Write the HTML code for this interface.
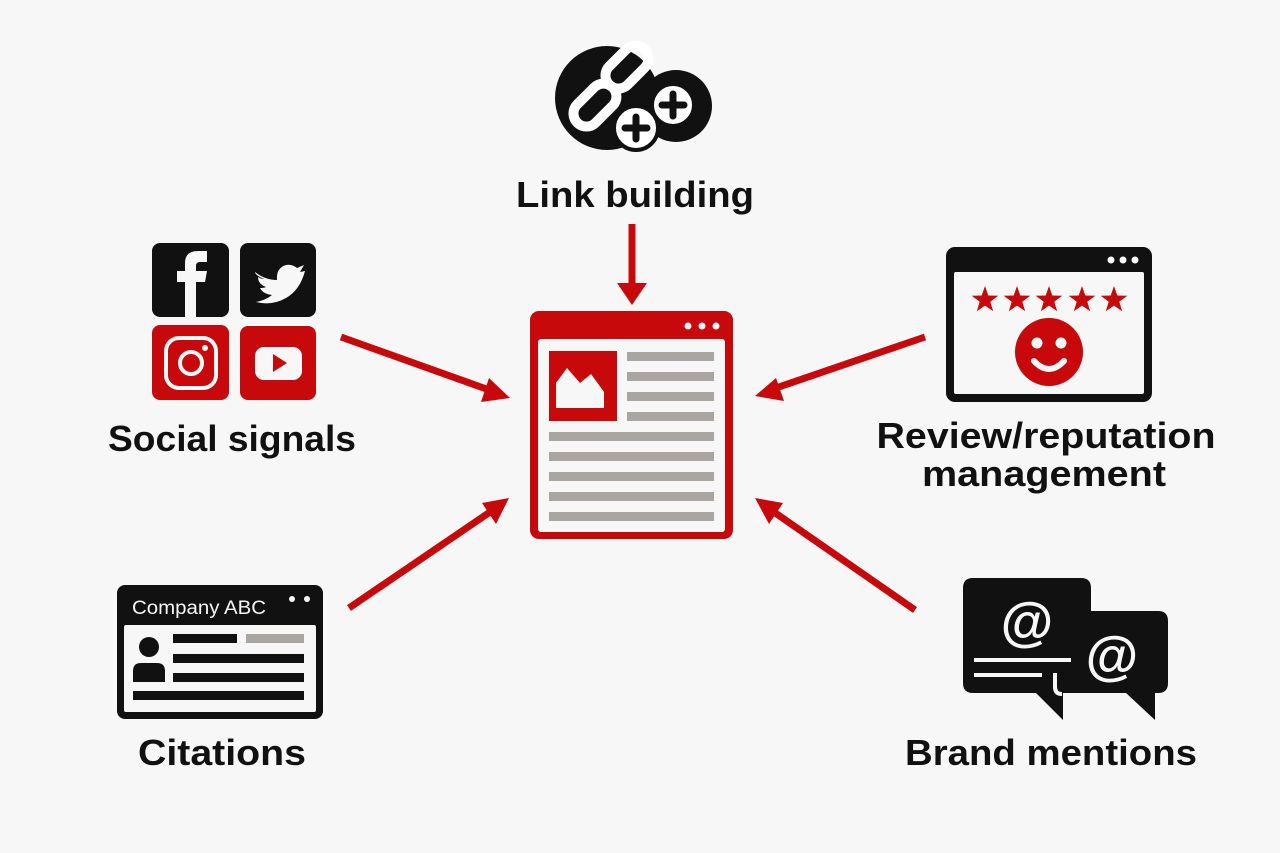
<!DOCTYPE html>
<html><head><meta charset="utf-8"><style>
html,body{margin:0;padding:0;background:#f7f7f7;}
svg{display:block}
text{font-family:"Liberation Sans",sans-serif;font-weight:bold;fill:#111;}
</style></head><body>
<svg width="1280" height="853" viewBox="0 0 1280 853" xmlns="http://www.w3.org/2000/svg">
<rect width="1280" height="853" fill="#f7f7f7"/>
<!-- Link building icon -->
<circle cx="676" cy="106" r="36" fill="#111"/>
<circle cx="607" cy="98" r="52" fill="#111"/>
<g fill="none" stroke="#fff" stroke-width="10" stroke-linecap="round">
<rect x="-13" y="-32" width="26" height="50" rx="13" transform="translate(622,72) rotate(45)"/>
<rect x="-13" y="-32" width="26" height="50" rx="13" transform="translate(590,110) rotate(45)"/>
</g>
<circle cx="673" cy="105" r="21" fill="#fff" stroke="#111" stroke-width="4"/>
<circle cx="636" cy="128" r="22" fill="#fff" stroke="#111" stroke-width="4"/>
<g stroke="#111" stroke-width="7" stroke-linecap="round">
<line x1="673" y1="94" x2="673" y2="116"/><line x1="662" y1="105" x2="684" y2="105"/>
<line x1="636" y1="117" x2="636" y2="139"/><line x1="625" y1="128" x2="647" y2="128"/>
</g>
<text x="635" y="207" font-size="36" text-anchor="middle" textLength="238" lengthAdjust="spacingAndGlyphs">Link building</text>

<!-- Arrows -->
<g stroke="#c8090c" stroke-width="7" fill="#c8090c">
<line x1="632" y1="224" x2="632" y2="285"/>
<polygon points="617,283 647,283 632,305" stroke="none"/>
<line x1="341" y1="337" x2="492" y2="391"/>
<polygon points="510,398 481,402 489,378" stroke="none"/>
<line x1="925" y1="337" x2="773" y2="389"/>
<polygon points="755,396 776,378 784,401" stroke="none"/>
<line x1="349" y1="608" x2="493" y2="510"/>
<polygon points="509,498 496,524 482,503" stroke="none"/>
<line x1="915" y1="610" x2="771" y2="510"/>
<polygon points="755,498 783,503 769,524" stroke="none"/>
</g>

<!-- Central page -->
<rect x="530" y="311" width="203" height="228" rx="9" fill="#c8090c"/>
<rect x="538" y="339" width="187" height="193" rx="3" fill="#f7f7f7"/>
<g fill="#f7f7f7"><circle cx="688" cy="326" r="3.5"/><circle cx="702" cy="326" r="3.5"/><circle cx="716" cy="326" r="3.5"/></g>
<rect x="549" y="351" width="68" height="70" fill="#c8090c"/>
<polygon points="556,408 556,383 567,368 580,383 591,374 604,392 604,408" fill="#f7f7f7"/>
<g fill="#a9a5a0">
<rect x="627" y="352" width="87" height="9"/><rect x="627" y="372" width="87" height="9"/>
<rect x="627" y="392" width="87" height="9"/><rect x="627" y="412" width="87" height="9"/>
<rect x="549" y="432" width="165" height="9"/><rect x="549" y="452" width="165" height="9"/>
<rect x="549" y="472" width="165" height="9"/><rect x="549" y="492" width="165" height="9"/>
<rect x="549" y="512" width="165" height="9"/>
</g>

<!-- Social -->
<rect x="152" y="243" width="77" height="74" rx="8" fill="#111"/>
<rect x="240" y="243" width="76" height="74" rx="8" fill="#111"/>
<rect x="152" y="325" width="77" height="75" rx="8" fill="#c8090c"/>
<rect x="240" y="326" width="76" height="74" rx="8" fill="#c8090c"/>
<path d="M185 317 V282 H177 V271 H185 V263 Q185 251 198 251 H207 V262 H200 Q196 262 196 266 V271 H207 L205 282 H196 V317 Z" fill="#f7f7f7"/>
<path d="M255 272 Q265 280 277 280 Q276 268 286 265 Q292 264 297 268 L304 265 L300 272 L305 271 Q300 290 286 298 Q272 306 256 302 Q266 300 272 295 Q263 294 260 288 Q264 288 266 287 Q258 284 258 277 Q261 279 264 279 Q255 275 255 272 Z" fill="#f7f7f7"/>
<rect x="166" y="338" width="50" height="50" rx="13" fill="none" stroke="#f7f7f7" stroke-width="4"/>
<circle cx="191" cy="363" r="11" fill="none" stroke="#f7f7f7" stroke-width="4"/>
<circle cx="205" cy="348" r="3" fill="#f7f7f7"/>
<rect x="255" y="347" width="47" height="33" rx="9" fill="#f7f7f7"/>
<polygon points="273,354 273,372 287,363" fill="#c8090c"/>
<text x="232" y="451" font-size="36" text-anchor="middle" textLength="248" lengthAdjust="spacingAndGlyphs">Social signals</text>

<!-- Review -->
<rect x="946" y="247" width="206" height="155" rx="9" fill="#111"/>
<rect x="954" y="272" width="190" height="122" rx="2" fill="#f7f7f7"/>
<g fill="#f7f7f7"><circle cx="1111" cy="260" r="3.5"/><circle cx="1123" cy="260" r="3.5"/><circle cx="1135" cy="260" r="3.5"/></g>
<g fill="#c8090c">
<polygon points="0,-14 3.3,-4.5 13.3,-4.3 5.3,1.7 8.2,11.3 0,5.6 -8.2,11.3 -5.3,1.7 -13.3,-4.3 -3.3,-4.5" transform="translate(985,300)"/>
<polygon points="0,-14 3.3,-4.5 13.3,-4.3 5.3,1.7 8.2,11.3 0,5.6 -8.2,11.3 -5.3,1.7 -13.3,-4.3 -3.3,-4.5" transform="translate(1017,300)"/>
<polygon points="0,-14 3.3,-4.5 13.3,-4.3 5.3,1.7 8.2,11.3 0,5.6 -8.2,11.3 -5.3,1.7 -13.3,-4.3 -3.3,-4.5" transform="translate(1049,300)"/>
<polygon points="0,-14 3.3,-4.5 13.3,-4.3 5.3,1.7 8.2,11.3 0,5.6 -8.2,11.3 -5.3,1.7 -13.3,-4.3 -3.3,-4.5" transform="translate(1082,300)"/>
<polygon points="0,-14 3.3,-4.5 13.3,-4.3 5.3,1.7 8.2,11.3 0,5.6 -8.2,11.3 -5.3,1.7 -13.3,-4.3 -3.3,-4.5" transform="translate(1114,300)"/>
<circle cx="1049" cy="352" r="34"/>
</g>
<g fill="#f7f7f7"><circle cx="1037" cy="343" r="5.5"/><circle cx="1061" cy="343" r="5.5"/></g>
<path d="M1034 361 Q1049 377 1064 361" fill="none" stroke="#f7f7f7" stroke-width="6" stroke-linecap="round"/>
<text x="1046" y="448" font-size="36" text-anchor="middle" textLength="339" lengthAdjust="spacingAndGlyphs">Review/reputation</text>
<text x="1044" y="486" font-size="36" text-anchor="middle" textLength="244" lengthAdjust="spacingAndGlyphs">management</text>

<!-- Citations -->
<rect x="117" y="585" width="206" height="134" rx="8" fill="#111"/>
<rect x="124" y="625" width="192" height="87" rx="2" fill="#f7f7f7"/>
<text x="132" y="614" font-size="19" style="font-weight:normal;fill:#f7f7f7" textLength="134" lengthAdjust="spacingAndGlyphs">Company ABC</text>
<g fill="#f7f7f7"><circle cx="292" cy="599" r="3"/><circle cx="307" cy="599" r="3"/></g>
<circle cx="149" cy="647" r="10" fill="#111"/>
<path d="M133 682 V671 Q133 663 141 663 H157 Q165 663 165 671 V682 Z" fill="#111"/>
<rect x="173" y="634" width="64" height="9" fill="#111"/>
<rect x="246" y="634" width="58" height="9" fill="#a9a5a0"/>
<rect x="173" y="654" width="131" height="9" fill="#111"/>
<rect x="173" y="673" width="131" height="9" fill="#111"/>
<rect x="133" y="691" width="171" height="9" fill="#111"/>
<text x="222" y="765" font-size="36" text-anchor="middle" textLength="168" lengthAdjust="spacingAndGlyphs">Citations</text>

<!-- Brand mentions -->
<path d="M1070 611 H1158 Q1168 611 1168 621 V683 Q1168 693 1158 693 H1155 V720 L1126 693 H1070 Z" fill="#111"/>
<path d="M973 578 H1081 Q1091 578 1091 588 V611 H1070 V693 H1063 V720 L1036 693 H973 Q963 693 963 683 V588 Q963 578 973 578 Z" fill="#111"/>
<text x="1027" y="640" font-size="54" style="fill:#f7f7f7" text-anchor="middle">@</text>
<text x="1112" y="674" font-size="54" style="fill:#f7f7f7" text-anchor="middle">@</text>
<rect x="974" y="658" width="97" height="4" fill="#f7f7f7"/>
<rect x="974" y="673" width="68" height="4" fill="#f7f7f7"/>
<path d="M1055 673 V687 Q1055 694 1062 694" fill="none" stroke="#f7f7f7" stroke-width="4"/>
<text x="1051" y="765" font-size="36" text-anchor="middle" textLength="292" lengthAdjust="spacingAndGlyphs">Brand mentions</text>
</svg>
</body></html>
